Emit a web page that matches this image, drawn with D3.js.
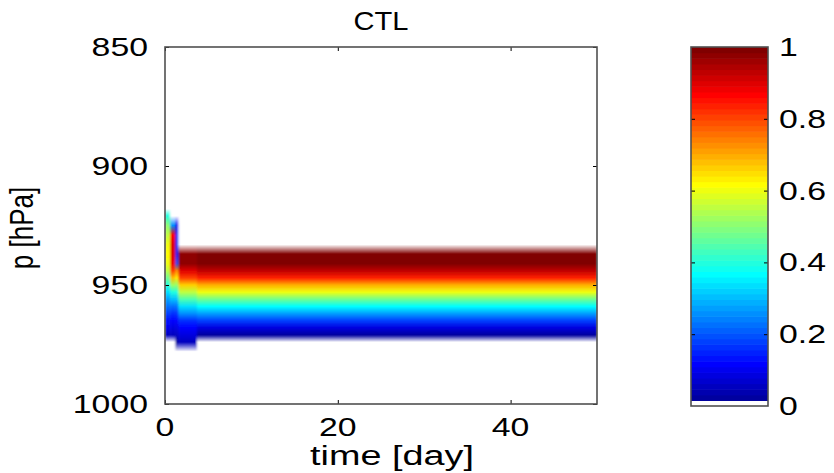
<!DOCTYPE html>
<html lang="en">

<head>
  <meta charset="UTF-8">
  <title>CTL</title>
  <script src="https://cdn.jsdelivr.net/npm/d3@7"></script>
  <style>
    body { margin: 0; background: #fff; }
    text { font-family: "Liberation Sans", Arial, sans-serif; fill: #000; }
  </style>
</head>

<body>
  <svg id="chart"></svg>
</body>

</html>
<script>
  const width = 834, height = 473;

  // pressure levels [hPa]
  const levels = [918, 921, 925, 929, 933, 937, 941, 944, 947, 950, 953, 956, 959, 962, 965, 968, 971, 974, 978];
  // time columns [day], column i spans timeEdges[i] .. timeEdges[i+1]
  const timeEdges = [0, 0.6, 1.2, 1.55, 3.7, 50];
  // cloud fraction per level for each column
  const colStart = [0, 0.4, 0.5, 0.55, 0.6, 0.62, 0.6, 0.55, 0.48, 0.4, 0.33, 0.27, 0.22, 0.18, 0.14, 0.1, 0.06, 0, 0];
  const colRise = [0, 0, 0.25, 0.86, 0.9, 0.9, 0.88, 0.8, 0.68, 0.52, 0.4, 0.3, 0.22, 0.16, 0.12, 0.08, 0.05, 0, 0];
  const colDecay = [0, 0, 0.1, 0.15, 0.15, 0.15, 0.2, 0.72, 0.64, 0.5, 0.4, 0.3, 0.22, 0.17, 0.12, 0.08, 0.05, 0.03, 0];
  const colFoot = [0, 0, 0, 0, 0, 0.97, 0.97, 0.9, 0.8, 0.66, 0.55, 0.44, 0.34, 0.25, 0.17, 0.12, 0.08, 0.06, 0];
  const colSteady = [0, 0, 0, 0, 0, 0.99, 0.99, 0.93, 0.84, 0.7, 0.6, 0.48, 0.37, 0.27, 0.18, 0.08, 0.03, 0, 0];
  const columns = [colStart, colRise, colDecay, colFoot, colSteady];

  const xTicks = [0, 20, 40];
  const yTicks = [850, 900, 950, 1000];
  const cbTicks = [0, 0.2, 0.4, 0.6, 0.8, 1];

  const fontSize = 26, stretch = 1.3;
  const frameColor = '#505050';

  // jet(64) with the lowest entry replaced by white
  const nColors = 64;
  const jet = k => {
    const x = (k + 1) / nColors;
    const c = v => Math.round(255 * Math.max(0, Math.min(1, v)));
    return `rgb(${c(Math.min(4 * x - 1.5, -4 * x + 4.5))},${c(Math.min(4 * x - 0.5, -4 * x + 3.5))},${c(Math.min(4 * x + 0.5, -4 * x + 2.5))})`;
  };
  const cmap = d3.range(nColors).map(k => k === 0 ? '#ffffff' : jet(k));
  const color = d3.scaleQuantize().domain([0, 1]).range(cmap);

  const x = d3.scaleLinear().domain([0, 50]).range([165, 597]);
  const y = d3.scaleLinear().domain([850, 1000]).range([47, 404]);
  const cy = d3.scaleLinear().domain([0, 1]).range([406, 47]);
  const cbX = [691, 768];

  const svg = d3.select('#chart')
    .attr('width', width)
    .attr('height', height);

  const defs = svg.append('defs');

  defs.append('clipPath')
    .attr('id', 'plot-clip')
    .append('rect')
    .attr('x', x(0))
    .attr('y', y(850))
    .attr('width', x(50) - x(0))
    .attr('height', y(1000) - y(850));

  defs.append('filter')
    .attr('id', 'soft')
    .attr('x', '-5%').attr('y', '-5%')
    .attr('width', '110%').attr('height', '110%')
    .append('feGaussianBlur')
    .attr('stdDeviation', '0.9 0.4');

  const yTop = y(levels[0]), yBot = y(levels[levels.length - 1]);

  defs.selectAll('linearGradient')
    .data(columns)
    .join('linearGradient')
    .attr('id', (d, i) => 'col' + i)
    .attr('gradientUnits', 'userSpaceOnUse')
    .attr('x1', 0).attr('x2', 0)
    .attr('y1', yTop).attr('y2', yBot)
    .selectAll('stop')
    .data(d => d.map((v, j) => ({ v, p: levels[j] })))
    .join('stop')
    .attr('offset', s => (y(s.p) - yTop) / (yBot - yTop))
    .attr('stop-color', s => color(s.v));

  // heatmap
  svg.append('g')
    .attr('clip-path', 'url(#plot-clip)')
    .append('g')
    .attr('filter', 'url(#soft)')
    .selectAll('rect')
    .data(columns)
    .join('rect')
    .attr('x', (d, i) => x(timeEdges[i]))
    .attr('width', (d, i) => x(timeEdges[i + 1]) - x(timeEdges[i]) + 0.5)
    .attr('y', yTop)
    .attr('height', yBot - yTop)
    .attr('fill', (d, i) => `url(#col${i})`);

  // ticks inside the box
  const tickLen = 4;
  const axes = [
    d3.axisBottom(x).tickValues(xTicks).tickSize(-tickLen),
    d3.axisTop(x).tickValues(xTicks).tickSize(-tickLen),
    d3.axisLeft(y).tickValues(yTicks).tickSize(-tickLen),
    d3.axisRight(y).tickValues(yTicks).tickSize(-tickLen),
  ];
  const shifts = [[0, y(1000)], [0, y(850)], [x(0), 0], [x(50), 0]];
  axes.forEach((ax, i) => {
    const g = svg.append('g')
      .attr('transform', `translate(${shifts[i][0]},${shifts[i][1]})`)
      .call(ax.tickFormat(''));
    g.select('.domain').remove();
    g.selectAll('line').attr('stroke', '#000').attr('stroke-width', 1);
  });

  svg.append('rect')
    .attr('x', x(0))
    .attr('y', y(850))
    .attr('width', x(50) - x(0))
    .attr('height', y(1000) - y(850))
    .attr('fill', 'none')
    .attr('stroke', frameColor)
    .attr('stroke-width', 1.6);

  // colorbar
  const cb = svg.append('g');
  cb.selectAll('rect')
    .data(cmap)
    .join('rect')
    .attr('x', cbX[0])
    .attr('width', cbX[1] - cbX[0])
    .attr('y', (d, k) => cy((k + 1) / nColors))
    .attr('height', (d, k) => cy(k / nColors) - cy((k + 1) / nColors) + 0.6)
    .attr('fill', d => d);

  [d3.axisLeft(cy), d3.axisRight(cy)].forEach((ax, i) => {
    const g = svg.append('g')
      .attr('transform', `translate(${cbX[i]},0)`)
      .call(ax.tickValues(cbTicks.slice(1, -1)).tickSize(-tickLen).tickFormat(''));
    g.select('.domain').remove();
    g.selectAll('line').attr('stroke', '#000').attr('stroke-width', 1);
  });

  svg.append('rect')
    .attr('x', cbX[0])
    .attr('y', cy(1))
    .attr('width', cbX[1] - cbX[0])
    .attr('height', cy(0) - cy(1))
    .attr('fill', 'none')
    .attr('stroke', frameColor)
    .attr('stroke-width', 1.6);

  // text, stretched horizontally like the source figure
  const label = (tx, ty, txt, anchor, opts = {}) => svg.append('text')
    .attr('transform', opts.rotate
      ? `translate(${tx},${ty}) rotate(-90) scale(1,${stretch})`
      : `translate(${tx},${ty}) scale(${opts.sx || stretch},1)`)
    .attr('text-anchor', anchor)
    .attr('font-size', opts.size || fontSize)
    .text(txt);

  yTicks.forEach(t => label(148, y(t) + 9, d3.format('d')(t), 'end'));
  xTicks.forEach(t => label(x(t), 436, t, 'middle'));
  cbTicks.forEach(t => label(779, cy(t) + 9, t === 0 || t === 1 ? t : d3.format('.1f')(t), 'start'));

  label(x(25), 30, 'CTL', 'middle', { sx: 1.12 });
  label(392, 465, 'time [day]', 'middle', { size: 27, sx: 1.4 });
  label(33, 228, 'p [hPa]', 'middle', { rotate: true });
</script>
